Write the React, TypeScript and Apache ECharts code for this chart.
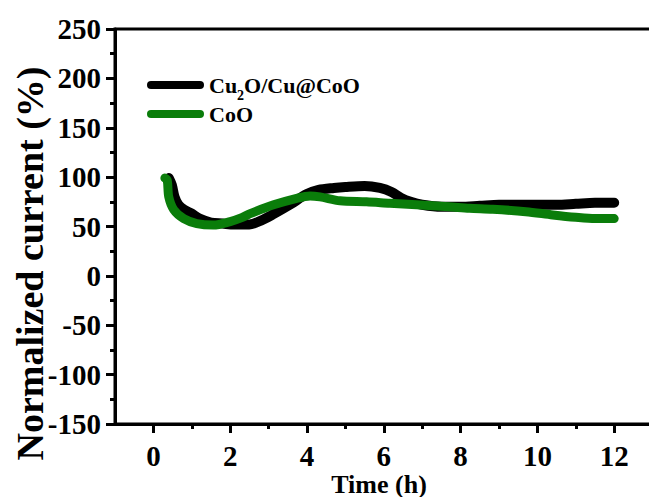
import React, { useEffect, useRef } from "react";
import * as echarts from "echarts";

const xMajorTicks = [0, 2, 4, 6, 8, 10, 12];
const xMinorTicks = [1, 3, 5, 7, 9, 11, 13];

const seriesNames = ["Cu2O/Cu@CoO", "CoO"];

const cuTime = [0.4, 0.48, 0.55, 0.65, 0.8, 1.0, 1.2, 1.5, 1.8, 2.1, 2.5, 2.8, 3.1, 3.55, 4.0, 4.3, 4.7, 5.0, 5.5, 5.9, 6.2, 6.45, 6.7, 7.0, 7.5, 8.0, 8.5, 9.0, 9.5, 10.0, 10.5, 11.0, 11.5, 12.0];
const cuValue = [99, 92, 80, 72, 67, 63, 58, 54, 53, 52, 52, 56, 62, 72, 83, 87, 89, 90, 91, 89, 85, 79, 75, 72, 70, 70, 71, 72, 72, 72, 72, 73, 74, 74];

const cooTime = [0.3, 0.36, 0.4, 0.53, 0.79, 1.13, 1.56, 2.0, 2.3, 2.52, 3.13, 3.73, 4.08, 4.34, 4.86, 5.55, 6.16, 6.85, 7.7, 8.23, 8.84, 9.7, 10.4, 11.0, 11.5, 12.0];
const cooValue = [99, 97, 80, 67, 58, 53, 51.5, 55, 59, 63, 72, 78.6, 81, 80, 76, 75, 73.5, 72, 70, 68.5, 67.5, 65, 61.7, 59.3, 58, 58];

const FONT = "Liberation Serif";

export default function App() {
  const ref = useRef<HTMLDivElement>(null);
  useEffect(() => {
    if (!ref.current) return;
    const chart = echarts.init(ref.current, undefined, { renderer: "svg" });
    const labelStyle = { fontFamily: FONT, fontWeight: "bold" as const, fontSize: 29, color: "#000" };
    const capsule = "path://M4,0 L53,0 A4,4 0 0 1 53,8 L4,8 A4,4 0 0 1 4,0 Z";
    chart.setOption({
      animation: false,
      backgroundColor: "#fff",
      textStyle: { fontFamily: FONT },
      grid: {
        left: 115,
        top: 29,
        width: 576,
        height: 395,
        show: true,
        borderColor: "#000",
        borderWidth: 3,
        backgroundColor: "transparent",
        containLabel: false,
        outerBoundsMode: "none",
      },
      legend: {
        orient: "vertical",
        left: 142,
        top: 69,
        itemWidth: 57,
        itemHeight: 8,
        itemGap: 1,
        data: [
          { name: seriesNames[0], icon: capsule },
          { name: seriesNames[1], icon: capsule },
        ],
        formatter: (name: string) =>
          name === seriesNames[0] ? "{n|Cu}{s|2}{n|O/Cu@CoO}" : "{n|" + name + "}",
        textStyle: {
          fontFamily: FONT,
          rich: {
            n: { fontFamily: FONT, fontWeight: "bold", fontSize: 22, color: "#000", lineHeight: 34, verticalAlign: "middle" },
            s: { fontFamily: FONT, fontWeight: "bold", fontSize: 14, color: "#000", lineHeight: 14, verticalAlign: "bottom" },
          },
        },
      },
      xAxis: [
        {
          type: "value",
          min: -1,
          max: 14,
          interval: 1,
          name: "Time (h)",
          nameLocation: "middle",
          nameGap: 47,
          nameMoveOverlap: false,
          nameTextStyle: { fontFamily: FONT, fontWeight: "bold", fontSize: 26, color: "#000", padding: [0, 48, 0, 0], lineHeight: 26 },
          axisLine: { show: true, onZero: false, lineStyle: { color: "#000", width: 3 } },
          axisTick: { show: true, customValues: xMajorTicks, length: 9, lineStyle: { color: "#000", width: 3 } },
          axisLabel: { ...labelStyle, customValues: xMajorTicks, margin: 17 },
          splitLine: { show: false },
        },
        {
          type: "value",
          min: -1,
          max: 14,
          interval: 1,
          position: "bottom",
          axisLine: { show: false, onZero: false },
          axisTick: { show: true, customValues: xMinorTicks, length: 5, lineStyle: { color: "#000", width: 3 } },
          axisLabel: { show: false },
          splitLine: { show: false },
        },
      ],
      yAxis: {
        type: "value",
        min: -150,
        max: 250,
        interval: 50,
        name: "Normalized current (%)",
        nameLocation: "middle",
        nameGap: 67,
        nameMoveOverlap: false,
        nameTextStyle: { fontFamily: FONT, fontWeight: "bold", fontSize: 38, color: "#000", padding: [0, 74, 0, 0], lineHeight: 36 },
        axisLine: { show: true, onZero: false, lineStyle: { color: "#000", width: 3 } },
        axisTick: { show: true, length: 9, lineStyle: { color: "#000", width: 3 } },
        minorTick: { show: true, splitNumber: 2, length: 5, lineStyle: { color: "#000", width: 3 } },
        axisLabel: { ...labelStyle, margin: 14 },
        splitLine: { show: false },
        minorSplitLine: { show: false },
      },
      series: [
        {
          name: seriesNames[0],
          type: "line",
          xAxisIndex: 0,
          smooth: 0.3,
          showSymbol: false,
          data: cuTime.map((t, i) => [t, cuValue[i]]),
          lineStyle: { color: "#000", width: 10, cap: "round", join: "round" },
          itemStyle: { color: "#000" },
          z: 2,
        },
        {
          name: seriesNames[1],
          type: "line",
          xAxisIndex: 0,
          smooth: 0.3,
          showSymbol: false,
          data: cooTime.map((t, i) => [t, cooValue[i]]),
          lineStyle: { color: "#0a7d0a", width: 9, cap: "round", join: "round" },
          itemStyle: { color: "#0a7d0a" },
          z: 3,
        },
      ],
    });
    return () => chart.dispose();
  }, []);
  return (
    <div
      ref={ref}
      style={{ position: "absolute", left: 0, top: 0, width: 649, height: 497, background: "#fff" }}
    />
  );
}
